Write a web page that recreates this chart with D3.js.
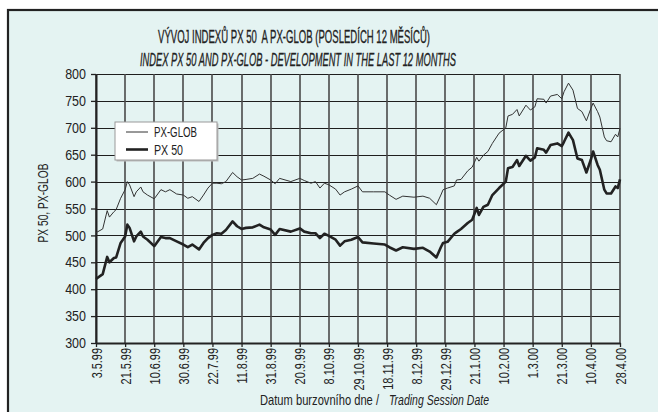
<!DOCTYPE html>
<html>
<head>
<meta charset="utf-8">
<script src="https://cdn.jsdelivr.net/npm/d3@7"></script>
<style>
  body { margin: 0; background: #fff; }
  svg { display: block; }
  text { font-family: "Liberation Sans", Arial, sans-serif; fill: #222; }
</style>
</head>
<body>
<script>
// trading session number (13 sessions between date labels)
const sessions = [0, 3, 5, 6, 8, 9, 11, 13, 14, 15, 17, 18, 20, 21, 23, 26, 29, 31, 33, 36,
  39, 41, 43, 46, 48, 50, 52, 54, 56, 58, 61, 63, 65, 67, 70, 73, 75, 78, 80, 82,
  87, 91, 93, 96, 98, 100, 102, 104, 107, 109, 111, 114, 117, 119, 124, 129, 131, 134, 137, 142,
  146, 149, 152, 154, 155, 157, 160, 161, 163, 166, 168, 170, 171, 173, 175, 177, 180, 183, 184, 186,
  188, 189, 192, 194, 196, 197, 200, 201, 203, 206, 208, 209, 211, 213, 215, 217, 219, 221, 222, 224,
  225, 227, 228, 230, 232, 233, 234];

const pxGlob = [505, 512, 546, 534, 544, 548, 569, 585, 600, 594, 572, 581, 590, 581, 575, 568, 585, 581, 585, 577,
  575, 569, 572, 563, 575, 588, 597, 597, 596, 600, 617, 609, 603, 604, 606, 614, 610, 603, 596, 606,
  600, 606, 602, 597, 600, 588, 597, 594, 586, 575, 581, 586, 592, 581, 581, 581, 575, 567, 573, 571,
  573, 569, 557, 575, 585, 588, 592, 603, 604, 620, 627, 645, 638, 649, 656, 671, 690, 700, 722, 725,
  734, 722, 742, 733, 739, 754, 753, 746, 759, 762, 754, 767, 783, 770, 736, 730, 713, 736, 746, 730,
  720, 683, 676, 674, 688, 683, 699];

const px50 = [419, 428, 460, 450, 458, 459, 486, 498, 520, 514, 489, 498, 507, 498, 492, 480, 497, 495, 495, 489,
  483, 478, 483, 474, 486, 495, 501, 504, 503, 510, 526, 517, 512, 514, 515, 520, 515, 511, 501, 512,
  507, 513, 507, 504, 504, 495, 503, 499, 492, 481, 489, 492, 497, 487, 485, 483, 478, 472, 478, 475,
  477, 470, 459, 478, 486, 488, 503, 506, 512, 523, 529, 551, 538, 553, 557, 575, 588, 600, 625, 627,
  640, 629, 648, 639, 645, 662, 659, 654, 668, 671, 666, 674, 691, 677, 643, 640, 617, 641, 656, 631,
  622, 585, 578, 578, 591, 588, 604];

const tickSessions = [0, 13, 26, 39, 52, 65, 78, 91, 104, 117, 130, 143, 156, 169, 182, 195, 208, 221, 234];
const tickLabels = ["3.5.99", "21.5.99", "10.6.99", "30.6.99", "22.7.99", "11.8.99", "31.8.99", "20.9.99",
  "8.10.99", "29.10.99", "18.11.99", "8.12.99", "29.12.99", "21.1.00", "10.2.00", "1.3.00", "21.3.00",
  "10.4.00", "28.4.00"];
const yTicks = [300, 350, 400, 450, 500, 550, 600, 650, 700, 750, 800];

const W = 658, H = 412;
const plot = { left: 96, right: 620, top: 74, bottom: 343 };

// squeeze text horizontally, the original uses a condensed face
function condense(sel, k) {
  sel.each(function () {
    const len = this.getComputedTextLength();
    d3.select(this).attr("textLength", len * k).attr("lengthAdjust", "spacingAndGlyphs");
  });
}

const svg = d3.select("body").append("svg").attr("width", W).attr("height", H);

// panel with dark frame (runs off the right/bottom edge)
svg.append("rect").attr("x", 8).attr("y", 10).attr("width", W + 10).attr("height", H + 10)
  .attr("fill", "#e4f3f2").attr("stroke", "#222").attr("stroke-width", 2.2);

const x = d3.scaleLinear().domain([0, 234]).range([plot.left, plot.right]);
const y = d3.scaleLinear().domain([300, 800]).range([plot.bottom, plot.top]);

// grid as one path per direction
const hGrid = yTicks.map(v => `M${plot.left},${Math.round(y(v)) + 0.5}H${plot.right}`).join("");
const vGrid = tickSessions.map(s => `M${Math.round(x(s))},${plot.top}V${plot.bottom}`).join("");
svg.append("path").attr("class", "grid-h").attr("d", hGrid)
  .attr("fill", "none").attr("stroke", "#1e1e1e").attr("stroke-width", 1.2);
svg.append("path").attr("class", "grid-v").attr("d", vGrid)
  .attr("fill", "none").attr("stroke", "#4a4a4a").attr("stroke-width", 1.6);

// axes
const yAxis = svg.append("g").attr("transform", `translate(${plot.left},0)`)
  .call(d3.axisLeft(y).tickValues(yTicks).tickSize(5).tickSizeOuter(0).tickPadding(5));
const xAxis = svg.append("g").attr("transform", `translate(0,${plot.bottom})`)
  .call(d3.axisBottom(x).tickValues(tickSessions).tickSize(4).tickSizeOuter(0)
    .tickFormat((d, i) => tickLabels[i]));

yAxis.select(".domain").attr("stroke", "#222").attr("stroke-width", 2);
xAxis.select(".domain").attr("stroke", "#222").attr("stroke-width", 2);
yAxis.selectAll(".tick line").attr("stroke", "#222").attr("stroke-width", 1.3);
xAxis.selectAll(".tick line").attr("stroke", "#222").attr("stroke-width", 1.3);
yAxis.selectAll("text").attr("font-size", 14.5).attr("fill", "#222")
  .attr("font-family", "'Liberation Sans', Arial, sans-serif").call(condense, 0.86);
xAxis.selectAll("text").attr("font-size", 14).attr("fill", "#222")
  .attr("font-family", "'Liberation Sans', Arial, sans-serif")
  .attr("transform", "rotate(-90)")
  .attr("text-anchor", "end").attr("dy", "0.36em").attr("x", -5).attr("y", 0)
  .call(condense, 0.78);

// series
const line = d3.line().x((d, i) => x(sessions[i])).y(d => y(d));
svg.append("path").datum(pxGlob).attr("d", line)
  .attr("fill", "none").attr("stroke", "#333").attr("stroke-width", 1);
svg.append("path").datum(px50).attr("d", line)
  .attr("fill", "none").attr("stroke", "#222").attr("stroke-width", 2.6)
  .attr("stroke-linejoin", "round");

// titles
svg.append("text").attr("x", 294).attr("y", 43).attr("text-anchor", "middle")
  .attr("font-size", 19).attr("stroke", "#222").attr("stroke-width", 0.35)
  .attr("textLength", 272).attr("lengthAdjust", "spacingAndGlyphs")
  .style("white-space", "pre")
  .text("VÝVOJ INDEXŮ PX 50  A PX-GLOB (POSLEDÍCH 12 MĚSÍCŮ)");
svg.append("text").attr("x", 298).attr("y", 66).attr("text-anchor", "middle")
  .attr("font-size", 19).attr("font-style", "italic").attr("stroke", "#222").attr("stroke-width", 0.35)
  .attr("textLength", 316).attr("lengthAdjust", "spacingAndGlyphs")
  .text("INDEX PX 50 AND PX-GLOB - DEVELOPMENT IN THE LAST 12 MONTHS");

svg.append("text").attr("transform", "translate(48,203) rotate(-90)")
  .attr("text-anchor", "middle").attr("font-size", 15)
  .attr("textLength", 79).attr("lengthAdjust", "spacingAndGlyphs").text("PX 50, PX-GLOB");

svg.append("text").attr("x", 260).attr("y", 405).attr("font-size", 15)
  .attr("textLength", 119).attr("lengthAdjust", "spacingAndGlyphs")
  .text("Datum burzovního dne /");
svg.append("text").attr("x", 389).attr("y", 405).attr("font-size", 15).attr("font-style", "italic")
  .attr("textLength", 100).attr("lengthAdjust", "spacingAndGlyphs")
  .text("Trading Session Date");

// legend
const lg = svg.append("g").attr("transform", "translate(115,122)");
lg.append("rect").attr("x", 1.5).attr("y", 1.5).attr("width", 102).attr("height", 38).attr("fill", "#bbb");
lg.append("rect").attr("width", 102).attr("height", 38).attr("fill", "#fff")
  .attr("stroke", "#999").attr("stroke-width", 1);
const entries = [["PX-GLOB", 1, "#333", 43], ["PX 50", 2.6, "#222", 29]];
entries.forEach((e, i) => {
  const ly = 10 + i * 17.5;
  lg.append("line").attr("x1", 11).attr("x2", 33).attr("y1", ly).attr("y2", ly)
    .attr("stroke", e[2]).attr("stroke-width", e[1]);
  lg.append("text").attr("x", 39).attr("y", ly).attr("dy", "0.36em")
    .attr("font-size", 15).attr("textLength", e[3]).attr("lengthAdjust", "spacingAndGlyphs")
    .text(e[0]);
});
</script>
</body>
</html>
